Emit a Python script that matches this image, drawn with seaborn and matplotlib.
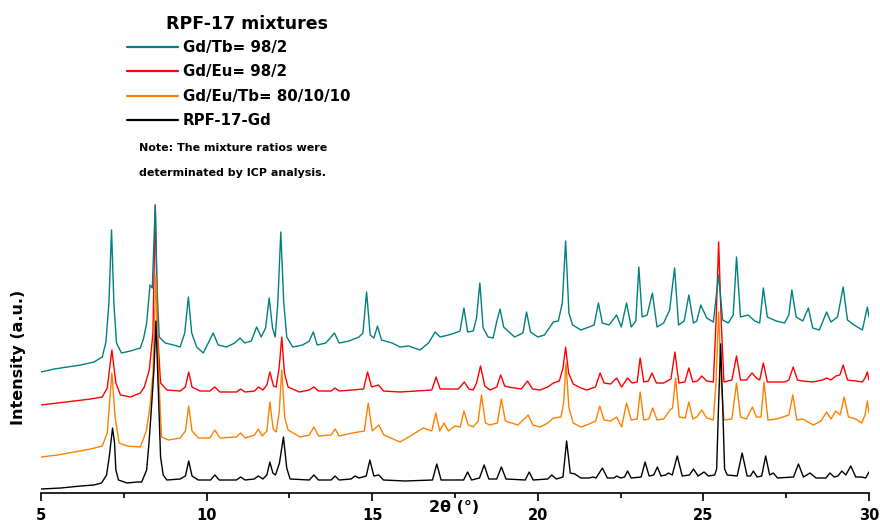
import matplotlib
matplotlib.use("Agg")
import matplotlib.pyplot as plt
from matplotlib.ticker import MultipleLocator
import seaborn as sns

# ---------------- data ----------------
legend_title = "RPF-17 mixtures"
labels = ["Gd/Tb= 98/2", "Gd/Eu= 98/2", "Gd/Eu/Tb= 80/10/10", "RPF-17-Gd"]
colors = ["#008080", "#ff0000", "#ff8000", "#000000"]
x_ticks = [5, 10, 15, 20, 25, 30]

black_x = [5.00, 5.60, 6.20, 6.60, 6.83, 6.98, 7.06, 7.16, 7.22, 7.26, 7.34, 7.60, 7.90, 8.04, 8.19, 8.26, 8.31, 8.41, 8.47, 8.54,
           8.61, 8.69, 8.80, 9.20, 9.36, 9.46, 9.56, 9.75, 10.12, 10.25, 10.38, 10.90, 11.03, 11.16, 11.44, 11.56, 11.70, 11.82, 11.91, 12.00,
           12.08, 12.20, 12.32, 12.42, 12.52, 13.10, 13.24, 13.38, 13.76, 13.88, 14.00, 14.36, 14.48, 14.60, 14.82, 14.93, 15.05, 15.20, 15.34, 16.00,
           16.82, 16.95, 17.08, 17.76, 17.88, 18.00, 18.24, 18.38, 18.52, 18.76, 18.90, 19.04, 19.62, 19.74, 19.86, 20.30, 20.42, 20.56, 20.76, 20.87,
           20.98, 21.12, 21.30, 21.55, 21.67, 21.76, 21.95, 22.10, 22.30, 22.38, 22.50, 22.62, 22.71, 22.82, 23.12, 23.24, 23.36, 23.50, 23.61, 23.72,
           23.86, 23.94, 24.06, 24.21, 24.36, 24.58, 24.70, 24.84, 25.02, 25.15, 25.34, 25.40, 25.46, 25.52, 25.58, 25.64, 25.72, 26.02, 26.17, 26.32,
           26.42, 26.51, 26.62, 26.76, 26.88, 27.00, 27.11, 27.24, 27.72, 27.87, 28.02, 28.22, 28.40, 28.70, 28.82, 28.95, 29.06, 29.18, 29.30, 29.45,
           29.60, 29.78, 29.90, 30.00]
black_y = [4, 5, 7, 8, 10, 18, 36, 65, 50, 23, 13, 10, 11, 11, 23, 50, 73, 123, 172, 103,
           36, 18, 13, 14, 17, 32, 17, 13, 13, 18, 13, 13, 16, 13, 14, 17, 14, 18, 31, 20,
           18, 30, 56, 25, 14, 13, 18, 13, 13, 17, 13, 14, 17, 15, 17, 33, 17, 18, 13, 12,
           13, 29, 13, 13, 21, 13, 15, 28, 14, 14, 26, 14, 13, 21, 13, 14, 18, 14, 16, 52,
           20, 19, 15, 15, 16, 15, 25, 15, 15, 17, 15, 16, 22, 15, 16, 31, 17, 18, 26, 17,
           18, 20, 18, 37, 17, 18, 24, 17, 21, 17, 18, 24, 90, 149, 90, 24, 18, 17, 40, 17,
           17, 22, 16, 17, 37, 18, 20, 15, 16, 29, 16, 20, 15, 15, 20, 16, 17, 22, 18, 27,
           16, 16, 15, 21]

orange_x = [5.00, 5.50, 6.00, 6.50, 6.85, 7.00, 7.14, 7.24, 7.36, 7.60, 8.00, 8.18, 8.29, 8.38, 8.47, 8.55, 8.64, 8.85, 9.20, 9.36,
            9.46, 9.56, 9.75, 10.10, 10.25, 10.40, 10.90, 11.03, 11.16, 11.45, 11.56, 11.68, 11.82, 11.91, 12.01, 12.10, 12.19, 12.27, 12.36, 12.46,
            12.82, 13.10, 13.24, 13.38, 13.76, 13.88, 14.00, 14.40, 14.76, 14.88, 15.00, 15.20, 15.35, 15.84, 16.20, 16.54, 16.80, 16.92, 17.04, 17.17,
            17.30, 17.50, 17.66, 17.77, 17.90, 18.05, 18.20, 18.30, 18.42, 18.55, 18.78, 18.90, 19.02, 19.11, 19.40, 19.71, 19.85, 20.07, 20.30, 20.47,
            20.70, 20.78, 20.85, 20.94, 21.07, 21.30, 21.48, 21.75, 21.87, 22.00, 22.20, 22.38, 22.53, 22.68, 22.82, 23.00, 23.09, 23.20, 23.35, 23.47,
            23.60, 23.80, 23.99, 24.07, 24.16, 24.27, 24.45, 24.56, 24.68, 24.80, 24.95, 25.10, 25.30, 25.38, 25.46, 25.54, 25.62, 25.86, 26.00, 26.12,
            26.30, 26.48, 26.60, 26.74, 26.83, 26.95, 27.20, 27.40, 27.58, 27.70, 27.82, 28.00, 28.32, 28.55, 28.72, 28.85, 29.00, 29.13, 29.25, 29.38,
            29.60, 29.78, 29.88, 29.95, 30.00]
orange_y = [36, 38, 41, 44, 47, 60, 120, 75, 50, 47, 46, 62, 86, 120, 218, 120, 56, 53, 55, 62,
            87, 62, 55, 55, 63, 55, 56, 60, 55, 58, 64, 57, 62, 91, 64, 61, 80, 123, 75, 63,
            56, 58, 66, 57, 58, 64, 57, 60, 62, 90, 62, 68, 58, 51, 58, 65, 62, 80, 62, 70,
            62, 67, 66, 82, 68, 66, 72, 98, 70, 68, 70, 94, 72, 71, 68, 78, 68, 66, 70, 75,
            76, 90, 130, 85, 70, 66, 68, 72, 87, 73, 72, 76, 66, 90, 73, 74, 101, 73, 74, 85,
            73, 74, 83, 85, 115, 76, 75, 91, 74, 76, 83, 75, 73, 110, 181, 110, 73, 74, 110, 76,
            74, 86, 76, 76, 111, 73, 74, 76, 78, 98, 73, 74, 68, 72, 81, 74, 82, 78, 96, 76,
            74, 70, 78, 92, 80]

red_x = [5.00, 5.50, 6.00, 6.50, 6.85, 7.00, 7.14, 7.26, 7.40, 7.70, 8.00, 8.12, 8.27, 8.38, 8.45, 8.52, 8.61, 8.80, 9.20, 9.36,
         9.46, 9.56, 9.80, 10.10, 10.25, 10.40, 10.90, 11.03, 11.16, 11.45, 11.56, 11.70, 11.82, 11.91, 12.02, 12.10, 12.19, 12.27, 12.35, 12.46,
         12.80, 13.10, 13.24, 13.38, 13.76, 13.88, 14.00, 14.40, 14.74, 14.86, 14.98, 15.19, 15.34, 15.84, 16.30, 16.80, 16.93, 17.05, 17.30, 17.60,
         17.78, 17.92, 18.05, 18.15, 18.27, 18.40, 18.55, 18.76, 18.88, 19.00, 19.11, 19.50, 19.69, 19.84, 20.07, 20.30, 20.47, 20.65, 20.76, 20.84,
         20.93, 21.07, 21.30, 21.48, 21.74, 21.88, 22.00, 22.20, 22.38, 22.53, 22.71, 22.85, 23.00, 23.09, 23.20, 23.34, 23.45, 23.58, 23.80, 24.02,
         24.14, 24.26, 24.44, 24.56, 24.68, 24.82, 24.95, 25.10, 25.30, 25.38, 25.46, 25.54, 25.62, 25.86, 26.00, 26.12, 26.30, 26.47, 26.60, 26.70,
         26.81, 26.93, 27.20, 27.45, 27.58, 27.71, 27.84, 28.00, 28.30, 28.60, 28.72, 28.85, 29.00, 29.12, 29.22, 29.35, 29.60, 29.80, 29.88, 29.95,
         30.00]
red_y = [88, 90, 92, 94, 96, 105, 143, 110, 98, 96, 100, 106, 123, 160, 288, 160, 110, 103, 102, 106,
         121, 106, 102, 102, 106, 101, 101, 104, 101, 102, 106, 103, 108, 121, 107, 106, 125, 156, 120, 106,
         101, 103, 106, 102, 102, 105, 102, 103, 104, 121, 106, 108, 102, 101, 102, 103, 116, 104, 104, 104,
         111, 104, 103, 110, 127, 107, 103, 106, 118, 107, 106, 104, 112, 104, 103, 106, 110, 112, 125, 146,
         120, 109, 105, 103, 106, 120, 110, 109, 115, 106, 115, 110, 111, 135, 111, 112, 120, 110, 110, 114,
         141, 110, 111, 125, 111, 112, 117, 112, 111, 170, 251, 170, 111, 113, 137, 113, 113, 120, 115, 113,
         130, 111, 111, 111, 113, 126, 113, 112, 111, 113, 115, 113, 117, 118, 128, 113, 112, 111, 115, 121,
         113]

teal_x = [5.00, 5.40, 5.80, 6.20, 6.60, 6.85, 6.96, 7.05, 7.13, 7.20, 7.28, 7.43, 7.70, 8.00, 8.10, 8.19, 8.29, 8.36, 8.45, 8.51,
          8.57, 8.75, 9.00, 9.20, 9.34, 9.45, 9.55, 9.70, 9.90, 10.05, 10.20, 10.35, 10.60, 10.85, 11.01, 11.15, 11.35, 11.51, 11.65, 11.78,
          11.89, 11.99, 12.07, 12.15, 12.24, 12.33, 12.42, 12.60, 12.90, 13.10, 13.22, 13.34, 13.60, 13.86, 14.00, 14.30, 14.60, 14.72, 14.83, 14.94,
          15.05, 15.16, 15.28, 15.60, 15.84, 16.10, 16.44, 16.70, 16.90, 17.05, 17.30, 17.50, 17.65, 17.77, 17.88, 18.05, 18.15, 18.25, 18.35, 18.50,
          18.65, 18.75, 18.86, 18.97, 19.10, 19.30, 19.55, 19.66, 19.78, 20.00, 20.20, 20.47, 20.62, 20.74, 20.84, 20.94, 21.05, 21.30, 21.55, 21.70,
          21.83, 21.95, 22.15, 22.38, 22.52, 22.68, 22.82, 22.96, 23.05, 23.15, 23.30, 23.46, 23.60, 23.80, 23.98, 24.13, 24.25, 24.42, 24.56, 24.70,
          24.80, 24.92, 25.10, 25.30, 25.46, 25.58, 25.75, 25.90, 26.00, 26.12, 26.35, 26.55, 26.70, 26.81, 26.93, 27.20, 27.45, 27.58, 27.67, 27.80,
          28.00, 28.17, 28.30, 28.50, 28.72, 28.85, 29.05, 29.22, 29.35, 29.55, 29.80, 29.95, 30.00]
teal_y = [121, 124, 126, 128, 131, 136, 151, 190, 263, 190, 150, 140, 142, 145, 155, 170, 208, 205, 288, 200,
          156, 150, 148, 146, 160, 196, 160, 146, 140, 150, 160, 148, 146, 150, 155, 150, 152, 166, 156, 165,
          195, 165, 156, 190, 261, 190, 156, 146, 148, 152, 161, 148, 150, 160, 150, 152, 156, 160, 201, 158,
          155, 167, 153, 150, 146, 147, 143, 150, 161, 156, 158, 160, 162, 185, 161, 162, 175, 210, 165, 156,
          155, 170, 184, 166, 162, 156, 160, 181, 161, 156, 158, 171, 172, 190, 252, 180, 168, 163, 166, 168,
          190, 170, 168, 178, 166, 190, 166, 172, 226, 176, 178, 200, 166, 170, 183, 225, 168, 172, 198, 170,
          172, 188, 175, 171, 218, 173, 170, 178, 236, 176, 178, 172, 170, 205, 176, 172, 170, 178, 203, 176,
          172, 185, 165, 163, 181, 171, 176, 206, 173, 168, 163, 186, 176]

# ---------------- figure ----------------
sns.set_style("white")
plt.rcParams["font.family"] = ["DejaVu Sans"]
plt.rcParams["font.weight"] = "bold"
plt.rcParams["text.color"] = "black"
plt.rcParams["axes.labelcolor"] = "black"
plt.rcParams["xtick.color"] = "black"

fig = plt.figure(figsize=(8.8, 5.21), dpi=100)
ax = fig.add_axes([41 / 880, 28 / 521, 828 / 880, 493 / 521])

series = [(teal_x, teal_y), (red_x, red_y), (orange_x, orange_y), (black_x, black_y)]
draw_order = [1, 0, 2, 3]
handles = {}
for i in draw_order:
    xs, ys = series[i]
    sns.lineplot(x=xs, y=ys, color=colors[i], lw=1.0, ax=ax,
                 estimator=None, sort=False, label=labels[i])
    handles[i] = ax.lines[-1]

ax.set_xlim(5, 30)
ax.set_ylim(0, 493)
ax.set_xticks(x_ticks)
ax.xaxis.set_minor_locator(MultipleLocator(2.5))
ax.set_yticks([])
for s in ["top", "right", "left"]:
    ax.spines[s].set_visible(False)
ax.spines["bottom"].set_linewidth(1.2)
ax.spines["bottom"].set_color("black")
ax.tick_params(axis="x", which="major", direction="out", length=5.5, width=1.2,
               pad=5, labelsize=10.5, bottom=True, colors="black")
ax.tick_params(axis="x", which="minor", direction="out", length=3.5, width=1.2,
               bottom=True, colors="black")
for t in ax.get_xticklabels():
    t.set_fontweight("bold")

ax.set_xlabel("2θ (°)", fontsize=11.5, fontweight="bold", color="black")
ax.xaxis.set_label_coords((454 - 41) / 828, -15 / 493)
ax.xaxis.label.set_va("center")
ax.set_ylabel("Intensity (a.u.)", fontsize=11.5, fontweight="bold", color="black")
ax.yaxis.set_label_coords((18 - 41) / 828, (493 - 357) / 493)
ax.yaxis.label.set_va("center")

leg = ax.legend([handles[i] for i in range(4)], labels,
                loc="upper left", bbox_to_anchor=(127 / 880, 1 - 40 / 521),
                bbox_transform=fig.transFigure, frameon=False,
                borderpad=0, borderaxespad=0, handlelength=3.4, handletextpad=0.33,
                labelspacing=0.63, prop={"size": 10.8, "weight": "bold"})
for ln in leg.get_lines():
    ln.set_linewidth(1.6)
for t in leg.get_texts():
    t.set_color("black")

fig.text(247 / 880, 1 - 24 / 521, legend_title, fontsize=12.5, fontweight="bold",
         ha="center", va="center", color="black")
fig.text(139 / 880, 1 - 148 / 521, "Note: The mixture ratios were",
         fontsize=8, fontweight="bold", va="center", ha="left", color="black")
fig.text(139 / 880, 1 - 173 / 521, "determinated by ICP analysis.",
         fontsize=8, fontweight="bold", va="center", ha="left", color="black")

fig.savefig("out.png", dpi=100)
